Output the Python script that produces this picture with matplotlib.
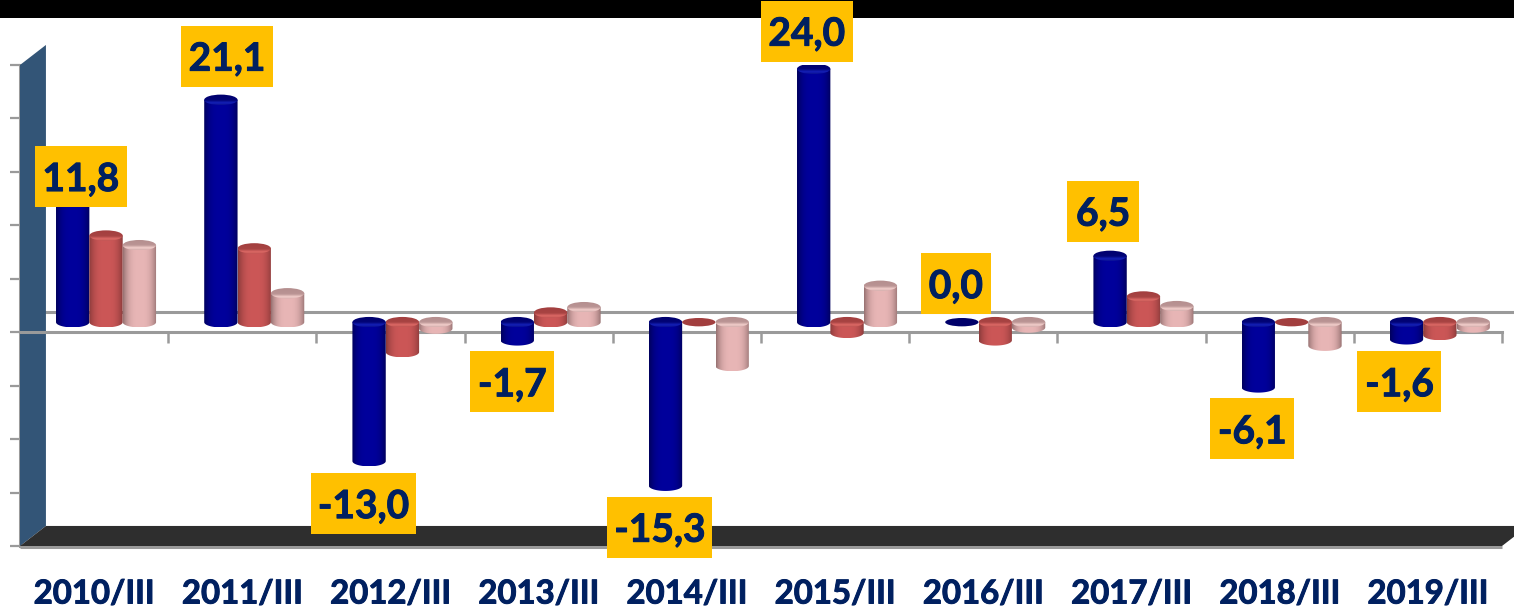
import numpy as np
import matplotlib
matplotlib.use("Agg")
import matplotlib.pyplot as plt
import matplotlib.patheffects as pe
from matplotlib.patches import Ellipse, PathPatch, Polygon, Rectangle
from matplotlib.path import Path
from matplotlib.transforms import IdentityTransform

# data
periods = ["2010/III", "2011/III", "2012/III", "2013/III", "2014/III",
           "2015/III", "2016/III", "2017/III", "2018/III", "2019/III"]
blue_vals = [11.8, 21.1, -13.0, -1.7, -15.3, 24.0, 0.0, 6.5, -6.1, -1.6]
red_vals = [8.1, 6.9, -2.8, 0.9, 0.0, -1.0, -1.7, 2.4, 0.0, -1.2]
pink_vals = [7.2, 2.7, -0.6, 1.4, -4.1, 3.4, -0.5, 1.5, -2.2, -0.5]
blue_labels = ["11,8", "21,1", "-13,0", "-1,7", "-15,3", "24,0", "0,0", "6,5", "-6,1", "-1,6"]

# layout
W, H = 1514, 616
Y_MIN, Y_MAX = -20, 25
BAR_W = 0.225
GROUP_OFF = 0.243
DEPTH_X = 0.175
DEPTH_Y = 1.875
BASE = 0.94
CAP_H = 0.49
TOP_TRIM = 0.3  # the tall blue bars stop a little short in the perspective view
GREY = "#9a9a9a"
NAVY = "#002060"
AMBER = "#FFC000"
FONT = "Lato"

# label box centre relative to the bar end, pixels
label_off = [(8, 19.5), (6, 40.5), (-5.5, -42.5), (-5, -41.5), (-5.5, -41.5),
             (-7, 34.5), (-6, 38.5), (-7, 41.5), (-6, -41.5), (-7, -42.5)]
label_w = [92, 92, 105, 84, 105, 92, 70, 72, 84, 84]
LABEL_H = 61

styles = {
    "blue": {"edge": "#00005c", "mid": "#00009c", "cap": "#00006e", "lite": "#1420b8", "flat": "#00006a"},
    "red": {"edge": "#8a3a3a", "mid": "#cc5757", "cap": "#a23f3f", "lite": "#dd6a66", "flat": "#a23f3f"},
    "pink": {"edge": "#977272", "mid": "#e8b6b6", "cap": "#b48e8e", "lite": "#f3cfcc", "flat": "#c09a9a"},
}


def rgb(c):
    return np.array(matplotlib.colors.to_rgb(c))


def body_image(st):
    t = np.linspace(-1, 1, 80)
    k = (1 - np.abs(t) ** 3)[None, :, None]
    return rgb(st["edge"]) * (1 - k) + rgb(st["mid"]) * k


def cap_image(st):
    y = np.linspace(0, 1, 40)
    k = np.interp(y, [0, 0.55, 0.8, 1], [0, 0.1, 1, 0.5])[:, None, None]
    return np.repeat(rgb(st["cap"]) * (1 - k) + rgb(st["lite"]) * k, 80, axis=1)


def draw_bar(ax, x, val, st, z, trim=0.0):
    left, right = x, x + BAR_W
    cx = x + BAR_W / 2
    end = val + BASE
    if abs(val) < 1e-6:
        ax.add_patch(Ellipse((cx, BASE), BAR_W, CAP_H * 1.6, color=st["flat"], zorder=z, lw=0))
        return
    if val > 0:
        end -= trim
    low, high = min(BASE, end), max(BASE, end)
    th = np.linspace(np.pi, 2 * np.pi, 40)
    xs = cx + BAR_W / 2 * np.cos(th)
    ys = low + CAP_H * np.sin(th)
    verts = [(left, high)] + list(zip(xs, ys)) + [(right, high), (left, high)]
    clip = PathPatch(Path(verts), transform=ax.transData)
    im = ax.imshow(body_image(st), extent=(left, right, low - CAP_H, high),
                   aspect="auto", zorder=z, interpolation="bilinear")
    im.set_clip_path(clip)
    im2 = ax.imshow(cap_image(st), extent=(left, right, high - CAP_H, high + CAP_H),
                    aspect="auto", zorder=z + 0.1, interpolation="bilinear")
    im2.set_clip_path(Ellipse((cx, high), BAR_W, CAP_H * 2, transform=ax.transData))


fig = plt.figure(figsize=(W / 100, H / 100), dpi=100, facecolor="white")
ax = fig.add_axes([20 / W, (H - 546) / H, 1482 / W, 481 / H])
ax.patch.set_visible(False)
ax.set_xlim(0, 10)
ax.set_ylim(Y_MIN, Y_MAX)
ax.autoscale(False)
px_per_unit = 481 / (Y_MAX - Y_MIN)

# axes
for s in ["top", "right"]:
    ax.spines[s].set_visible(False)
ax.spines["bottom"].set_position(("data", 0))
ax.spines["bottom"].set_color(GREY)
ax.spines["bottom"].set_linewidth(2.2)
ax.spines["left"].set_color(GREY)
ax.spines["left"].set_linewidth(2.2)
ax.spines["left"].set_zorder(1.5)
ax.set_yticks(np.arange(Y_MIN, Y_MAX + 5, 5))
ax.set_xticks(np.arange(0, 11))
ax.tick_params(axis="y", length=7, width=1.6, color=GREY, labelleft=False)
ax.tick_params(axis="x", length=8, width=1.8, color=GREY, labelbottom=False)

# 3d walls
ax.add_patch(Polygon([(0, Y_MAX), (DEPTH_X, Y_MAX + DEPTH_Y), (DEPTH_X, Y_MIN + DEPTH_Y), (0, Y_MIN)],
                     closed=True, fc="#335577", ec="none", zorder=2, clip_on=False))
ax.add_patch(Polygon([(0, Y_MIN), (DEPTH_X, Y_MIN + DEPTH_Y), (10 + DEPTH_X, Y_MIN + DEPTH_Y), (10, Y_MIN)],
                     closed=True, fc="#2e2e2e", ec="none", zorder=2, clip_on=False))
ax.plot([0, 10], [Y_MIN - 0.12, Y_MIN - 0.12], color=GREY, lw=2.2, zorder=1.9, clip_on=False, solid_capstyle="butt")
ax.plot([DEPTH_X, 10 + DEPTH_X], [DEPTH_Y, DEPTH_Y], color=GREY, lw=2.2, zorder=1, clip_on=False)

# black band on top
ax.add_patch(Rectangle((0, 1 - 18 / H), 1, 18 / H, transform=fig.transFigure,
                       fc="black", ec="none", zorder=0.5, clip_on=False))

# cylinders
for i in range(len(periods)):
    draw_bar(ax, i + GROUP_OFF, blue_vals[i], styles["blue"], 3, trim=TOP_TRIM)
    draw_bar(ax, i + GROUP_OFF + BAR_W, red_vals[i], styles["red"], 4)
    draw_bar(ax, i + GROUP_OFF + 2 * BAR_W, pink_vals[i], styles["pink"], 5)

thick = [pe.withStroke(linewidth=0.7, foreground=NAVY)]

# value labels
for i, txt in enumerate(blue_labels):
    px, py = ax.transData.transform((i + GROUP_OFF + BAR_W / 2, blue_vals[i] + BASE))
    cx, cy = px + label_off[i][0], py + label_off[i][1]
    ax.add_patch(Rectangle((cx - label_w[i] / 2, cy - LABEL_H / 2), label_w[i], LABEL_H,
                           transform=IdentityTransform(), fc=AMBER, ec="none",
                           zorder=8, clip_on=False))
    ax.text(cx, cy, txt, transform=IdentityTransform(), ha="center", va="center_baseline",
            family=FONT, weight="bold", fontsize=28, color=NAVY, zorder=9, clip_on=False,
            path_effects=thick)

# category labels
for i, p in enumerate(periods):
    ax.text(i + 0.5, Y_MIN - 48 / px_per_unit, p, ha="center", va="center",
            family=FONT, weight="bold", fontsize=23.7, color=NAVY, clip_on=False,
            path_effects=thick)

fig.savefig("out.png", dpi=100)
